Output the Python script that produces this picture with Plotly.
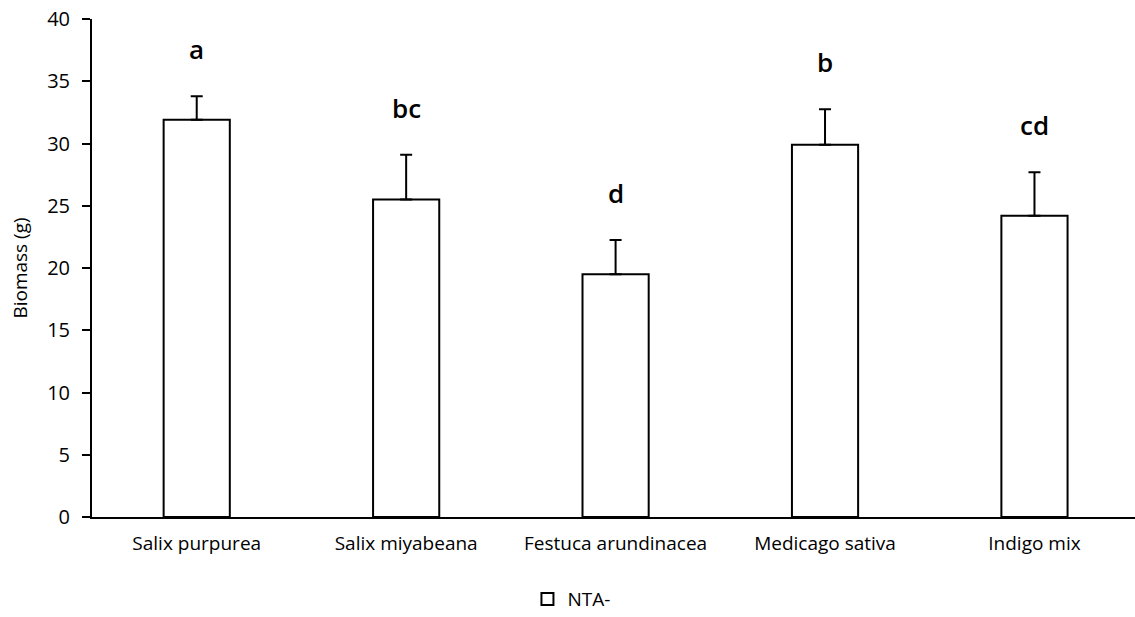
import plotly.graph_objects as go

categories = ["Salix purpurea", "Salix miyabeana", "Festuca arundinacea", "Medicago sativa", "Indigo mix"]
biomass = [31.9, 25.5, 19.5, 29.9, 24.2]
error_up = [1.9, 3.6, 2.75, 2.85, 3.5]
letters = ["a", "bc", "d", "b", "cd"]
series_name = "NTA-"

FONT = "Open Sans"

fig = go.Figure()
fig.add_trace(go.Bar(
    x=categories, y=biomass, name=series_name,
    marker=dict(color="white", line=dict(color="black", width=2)),
    error_y=dict(type="data", symmetric=False, array=error_up,
                 arrayminus=[0] * len(error_up), color="black", thickness=2, width=6),
    showlegend=True,
))

for c, v, e, t in zip(categories, biomass, error_up, letters):
    fig.add_annotation(x=c, y=v + e, text=t, showarrow=False, yanchor="bottom",
                       yshift=27, font=dict(family=FONT, size=26, color="black", weight=600))

fig.update_layout(
    width=1135, height=617,
    margin=dict(l=92, r=0, t=19, b=100, autoexpand=False),
    paper_bgcolor="white", plot_bgcolor="white",
    bargap=0.684,
    font=dict(family=FONT, size=19, color="black"),
    showlegend=True,
    legend=dict(orientation="h", x=0.4175, xanchor="left",
                y=-0.165, yanchor="middle",
                font=dict(family=FONT, size=19, color="black"), itemwidth=30),
    xaxis=dict(range=[-0.5, 4.48], showline=True, linecolor="black", linewidth=2,
               ticks="", showgrid=False, zeroline=False, tickangle=0,
               tickfont=dict(family=FONT, size=19, color="black"), ticklabelstandoff=8),
    yaxis=dict(range=[0, 40], dtick=5, showline=True, linecolor="black", linewidth=2,
               ticks="outside", ticklen=8, tickwidth=2, tickcolor="black",
               showgrid=False, zeroline=False, ticklabeloverflow="allow",
               tickfont=dict(family=FONT, size=20, color="black"), ticklabelstandoff=8,
               title=dict(text="Biomass (g)", font=dict(family=FONT, size=19, color="black"), standoff=14)),
)

fig.write_html("out.html", config={"displayModeBar": False},
               post_script="document.body.style.margin='0';")
